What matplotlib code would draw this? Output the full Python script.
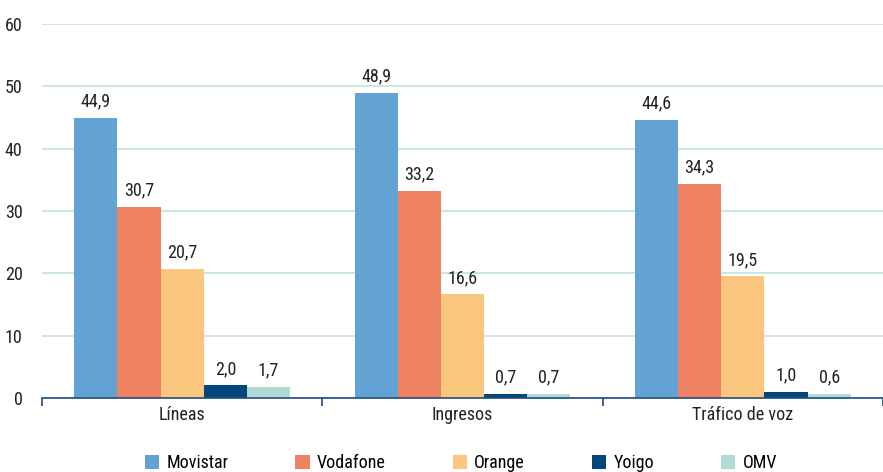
import matplotlib
matplotlib.use("Agg")
import matplotlib.pyplot as plt
import numpy as np

plt.rcParams["font.family"] = ["Roboto Condensed", "DejaVu Sans"]

categories = ["Líneas", "Ingresos", "Tráfico de voz"]
operators = ["Movistar", "Vodafone", "Orange", "Yoigo", "OMV"]
movistar = [44.9, 48.9, 44.6]
vodafone = [30.7, 33.2, 34.3]
orange = [20.7, 16.6, 19.5]
yoigo = [2.0, 0.7, 1.0]
omv = [1.7, 0.7, 0.6]
series = [movistar, vodafone, orange, yoigo, omv]
colors = ["#62a3d3", "#ef8262", "#fbc77f", "#03477a", "#b0dbd5"]

fig = plt.figure(figsize=(8.83, 4.72), dpi=100)
ax = fig.add_axes([0.0476, 0.157, 0.9524, 0.792])

x = np.arange(len(categories))
width = 0.154
for i, (name, vals, col) in enumerate(zip(operators, series, colors)):
    pos = x + (i - 2) * width
    ax.bar(pos, vals, width, color=col, label=name, zorder=2)
    for px, v in zip(pos, vals):
        ax.text(px, v + 1.2, f"{v:.1f}".replace(".", ","), ha="center", va="bottom",
                fontsize=13, color="#222222")

ax.set_ylim(0, 60)
ax.set_xlim(-0.5, 2.45)
ax.set_yticks(range(0, 61, 10))
ax.grid(axis="y", color="#bfe3de", linewidth=1.2, zorder=0)
ax.tick_params(axis="y", length=0, labelsize=13, pad=14, colors="#222222")

ax.set_xticks(x)
ax.set_xticklabels(categories, fontsize=13, color="#222222")
ax.tick_params(axis="x", length=0, pad=6)
ax.set_xticks([-0.5, 0.5, 1.5, 2.5], minor=True)
ax.tick_params(axis="x", which="minor", length=6, color="#1f4e79", width=1.2, direction="out")

for s in ["top", "right", "left"]:
    ax.spines[s].set_visible(False)
ax.spines["bottom"].set_color("#1f4e79")
ax.spines["bottom"].set_linewidth(1.2)

fig.legend(loc="lower center", bbox_to_anchor=(0.522, -0.035), ncol=5, frameon=False,
           fontsize=13, handlelength=0.8, handleheight=0.8, columnspacing=3.7,
           handletextpad=0.4)

fig.savefig("out.png", dpi=100)
